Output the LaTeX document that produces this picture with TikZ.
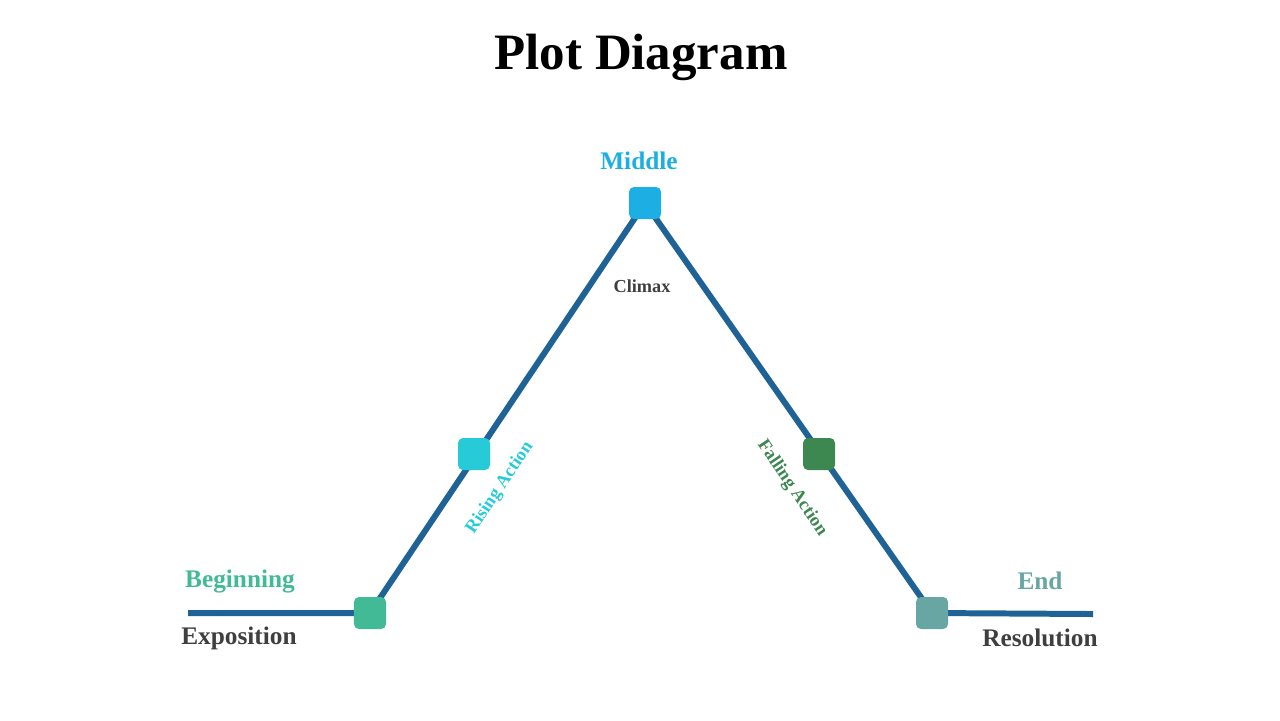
\documentclass[tikz,border=0pt]{standalone}
\usepackage{fontspec}
\setmainfont{Liberation Serif}
\definecolor{plotline}{HTML}{1F6396}
\definecolor{cbegin}{HTML}{43BA96}
\definecolor{crise}{HTML}{27CBD8}
\definecolor{cmid}{HTML}{1DAEE3}
\definecolor{cfall}{HTML}{3D8751}
\definecolor{cend}{HTML}{67A6A2}
\definecolor{ctext}{HTML}{3F3F3F}
\begin{document}
\begin{tikzpicture}[
x=0.01cm, y=-0.01cm,
stage/.style = {draw=none, minimum size=0.32cm, rounded corners=0.05cm, inner sep=0pt},
lbl/.style = {font=\bfseries\fontsize{7.2}{8}\selectfont},
small/.style = {font=\bfseries\fontsize{5.2}{6}\selectfont} ]
\useasboundingbox (0,0) rectangle (1280,720);
\node[font=\bfseries\fontsize{14.5}{16}\selectfont] (title) at (641,57) {Plot Diagram};

\coordinate (start) at (188,613);
\coordinate (finish) at (1093,614);
\coordinate (peak) at (645,203);
\draw[line width=1.7pt, plotline] (start) -- (370,613) -- (peak) -- (932,613) -- (finish);

\node[stage, fill=cbegin] (1) at (370,613) {};
\node[stage, fill=crise] (2) at (474,454) {};
\node[stage, fill=cmid] (3) at (peak) {};
\node[stage, fill=cfall] (4) at (819,454) {};
\node[stage, fill=cend] (5) at (932,613) {};

\node[lbl, cbegin] (b) at (240,581) {Beginning};
\node[lbl, ctext] (e) at (239,638) {Exposition};
\node[lbl, cmid] (m) at (639,161) {Middle};
\node[small, ctext] (c) at (642,286) {Climax};
\node[lbl, cend] (n) at (1040,581) {End};
\node[lbl, ctext] (r) at (1040,638) {Resolution};
\node[small, crise, rotate=56] (ra) at (500,488) {Rising Action};
\node[small, cfall, rotate=-56] (fa) at (792,488) {Falling Action};
\end{tikzpicture}
\end{document}
